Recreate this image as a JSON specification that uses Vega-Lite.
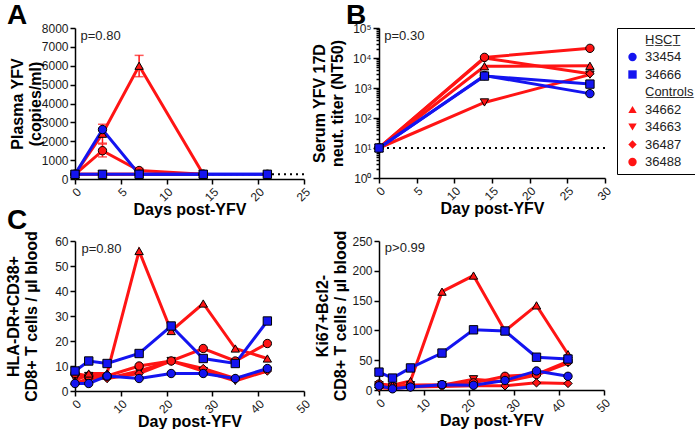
{
  "$schema": "https://vega.github.io/schema/vega-lite/v6.json",
  "padding": {"left": 5, "top": 2, "right": 0, "bottom": 0},
  "bounds": "flush",
  "columns": 2,
  "spacing": {"row": 62, "column": 75},
  "resolve": {
    "scale": {"fill": "independent", "shape": "independent", "stroke": "independent"},
    "legend": {"fill": "independent", "shape": "independent", "stroke": "independent"}
  },
  "datasets": {
    "a": [
      {"s": "34663", "d": 0, "v": 250}, {"s": "34663", "d": 3, "v": 250}, {"s": "34663", "d": 7, "v": 250}, {"s": "34663", "d": 14, "v": 250},
      {"s": "36487", "d": 0, "v": 250}, {"s": "36487", "d": 3, "v": 250}, {"s": "36487", "d": 7, "v": 250}, {"s": "36487", "d": 14, "v": 250},
      {"s": "36488", "d": 0, "v": 250}, {"s": "36488", "d": 3, "v": 1500}, {"s": "36488", "d": 7, "v": 450}, {"s": "36488", "d": 14, "v": 250},
      {"s": "34662", "d": 0, "v": 250}, {"s": "34662", "d": 3, "v": 2400}, {"s": "34662", "d": 7, "v": 6000}, {"s": "34662", "d": 14, "v": 250},
      {"s": "33454", "d": 0, "v": 250}, {"s": "33454", "d": 3, "v": 2620}, {"s": "33454", "d": 7, "v": 250}, {"s": "33454", "d": 14, "v": 250}, {"s": "33454", "d": 21, "v": 250},
      {"s": "34666", "d": 0, "v": 250}, {"s": "34666", "d": 3, "v": 250}, {"s": "34666", "d": 7, "v": 250}, {"s": "34666", "d": 14, "v": 250}, {"s": "34666", "d": 21, "v": 250}
    ],
    "aerr": [
      {"s": "34662", "d": 3, "lo": 1900, "hi": 2900},
      {"s": "36488", "d": 3, "lo": 1170, "hi": 1850},
      {"s": "34662", "d": 7, "lo": 5420, "hi": 6550},
      {"s": "36488", "d": 7, "lo": 380, "hi": 560}
    ],
    "b": [
      {"s": "34663", "d": 0, "v": 10}, {"s": "34663", "d": 14, "v": 330}, {"s": "34663", "d": 28, "v": 2800},
      {"s": "36487", "d": 0, "v": 10}, {"s": "36487", "d": 14, "v": 10000}, {"s": "36487", "d": 28, "v": 3000},
      {"s": "36488", "d": 0, "v": 10}, {"s": "36488", "d": 14, "v": 10500}, {"s": "36488", "d": 28, "v": 21000},
      {"s": "34662", "d": 0, "v": 10}, {"s": "34662", "d": 14, "v": 5300}, {"s": "34662", "d": 28, "v": 5500},
      {"s": "33454", "d": 0, "v": 10}, {"s": "33454", "d": 14, "v": 2600}, {"s": "33454", "d": 28, "v": 650},
      {"s": "34666", "d": 0, "v": 10}, {"s": "34666", "d": 14, "v": 2500}, {"s": "34666", "d": 28, "v": 1350}
    ],
    "c1": [
      {"s": "34663", "d": 0, "v": 5}, {"s": "34663", "d": 3, "v": 6}, {"s": "34663", "d": 7, "v": 5}, {"s": "34663", "d": 14, "v": 8}, {"s": "34663", "d": 21, "v": 12}, {"s": "34663", "d": 28, "v": 8}, {"s": "34663", "d": 35, "v": 4}, {"s": "34663", "d": 42, "v": 8},
      {"s": "36487", "d": 0, "v": 3}, {"s": "36487", "d": 3, "v": 5}, {"s": "36487", "d": 7, "v": 5}, {"s": "36487", "d": 14, "v": 7}, {"s": "36487", "d": 21, "v": 12}, {"s": "36487", "d": 28, "v": 9}, {"s": "36487", "d": 35, "v": 5}, {"s": "36487", "d": 42, "v": 8},
      {"s": "36488", "d": 0, "v": 7}, {"s": "36488", "d": 3, "v": 6}, {"s": "36488", "d": 7, "v": 6}, {"s": "36488", "d": 14, "v": 10}, {"s": "36488", "d": 21, "v": 12}, {"s": "36488", "d": 28, "v": 17}, {"s": "36488", "d": 35, "v": 12}, {"s": "36488", "d": 42, "v": 19},
      {"s": "34662", "d": 0, "v": 4}, {"s": "34662", "d": 3, "v": 7}, {"s": "34662", "d": 7, "v": 7}, {"s": "34662", "d": 14, "v": 56}, {"s": "34662", "d": 21, "v": 24}, {"s": "34662", "d": 28, "v": 35}, {"s": "34662", "d": 35, "v": 17}, {"s": "34662", "d": 42, "v": 13},
      {"s": "33454", "d": 0, "v": 3}, {"s": "33454", "d": 3, "v": 3}, {"s": "33454", "d": 7, "v": 6}, {"s": "33454", "d": 14, "v": 5}, {"s": "33454", "d": 21, "v": 7}, {"s": "33454", "d": 28, "v": 7}, {"s": "33454", "d": 35, "v": 5}, {"s": "33454", "d": 42, "v": 9},
      {"s": "34666", "d": 0, "v": 8}, {"s": "34666", "d": 3, "v": 12}, {"s": "34666", "d": 7, "v": 11}, {"s": "34666", "d": 14, "v": 15}, {"s": "34666", "d": 21, "v": 26}, {"s": "34666", "d": 28, "v": 13}, {"s": "34666", "d": 35, "v": 11}, {"s": "34666", "d": 42, "v": 28}
    ],
    "c2": [
      {"s": "34663", "d": 0, "v": 8}, {"s": "34663", "d": 3, "v": 5}, {"s": "34663", "d": 7, "v": 8}, {"s": "34663", "d": 14, "v": 8}, {"s": "34663", "d": 21, "v": 18}, {"s": "34663", "d": 28, "v": 14}, {"s": "34663", "d": 35, "v": 25}, {"s": "34663", "d": 42, "v": 45},
      {"s": "36487", "d": 0, "v": 4}, {"s": "36487", "d": 3, "v": 2}, {"s": "36487", "d": 7, "v": 5}, {"s": "36487", "d": 14, "v": 6}, {"s": "36487", "d": 21, "v": 7}, {"s": "36487", "d": 28, "v": 7}, {"s": "36487", "d": 35, "v": 12}, {"s": "36487", "d": 42, "v": 11},
      {"s": "36488", "d": 0, "v": 10}, {"s": "36488", "d": 3, "v": 6}, {"s": "36488", "d": 7, "v": 8}, {"s": "36488", "d": 14, "v": 9}, {"s": "36488", "d": 21, "v": 12}, {"s": "36488", "d": 28, "v": 23}, {"s": "36488", "d": 35, "v": 26}, {"s": "36488", "d": 42, "v": 48},
      {"s": "34662", "d": 0, "v": 10}, {"s": "34662", "d": 3, "v": 8}, {"s": "34662", "d": 7, "v": 15}, {"s": "34662", "d": 14, "v": 165}, {"s": "34662", "d": 21, "v": 192}, {"s": "34662", "d": 28, "v": 99}, {"s": "34662", "d": 35, "v": 142}, {"s": "34662", "d": 42, "v": 60},
      {"s": "33454", "d": 0, "v": 7}, {"s": "33454", "d": 3, "v": 2}, {"s": "33454", "d": 7, "v": 5}, {"s": "33454", "d": 14, "v": 9}, {"s": "33454", "d": 21, "v": 8}, {"s": "33454", "d": 28, "v": 16}, {"s": "33454", "d": 35, "v": 32}, {"s": "33454", "d": 42, "v": 23},
      {"s": "34666", "d": 0, "v": 30}, {"s": "34666", "d": 3, "v": 20}, {"s": "34666", "d": 7, "v": 37}, {"s": "34666", "d": 14, "v": 62}, {"s": "34666", "d": 21, "v": 101}, {"s": "34666", "d": 28, "v": 99}, {"s": "34666", "d": 35, "v": 55}, {"s": "34666", "d": 42, "v": 52}
    ]
  },
  "concat": [
    {
      "width": 229, "height": 151,
      "title": {"text": "A", "anchor": "start", "frame": "group", "fontSize": 28, "fontWeight": "bold", "dx": -68, "offset": -8, "color": "black"},
      "layer": [
        {
          "data": {"values": [{}]},
          "mark": {"type": "rule", "strokeDash": [2, 4], "strokeWidth": 2, "color": "black"},
          "encoding": {"y": {"datum": 250, "type": "quantitative"}}
        },
        {
          "data": {"name": "a"},
          "mark": {"type": "line", "strokeWidth": 3},
          "encoding": {
            "x": {"field": "d", "type": "quantitative", "scale": {"domain": [0, 25], "nice": false}, "axis": {"title": "Days post-YFV", "values": [0, 5, 10, 15, 20, 25], "tickCount": 50, "labelAngle": -45, "labelOverlap": false, "format": "d"}},
            "y": {"field": "v", "type": "quantitative", "scale": {"domain": [0, 8000], "nice": false}, "axis": {"title": ["Plasma YFV", "(copies/ml)"], "values": [0, 1000, 2000, 3000, 4000, 5000, 6000, 7000, 8000], "tickCount": 50, "format": "d", "labelOverlap": false, "titlePadding": 2, "minExtent": 30, "maxExtent": 30}},
            "stroke": {"field": "s", "type": "nominal", "scale": {"domain": ["33454", "34666", "34662", "34663", "36487", "36488"], "range": ["#1414f0", "#1414f0", "#ff1414", "#ff1414", "#ff1414", "#ff1414"]}, "legend": null}
          }
        },
        {
          "data": {"name": "aerr"},
          "mark": {"type": "rule", "strokeWidth": 1.5, "color": "#ff1414"},
          "encoding": {"x": {"field": "d", "type": "quantitative"}, "y": {"field": "lo", "type": "quantitative"}, "y2": {"field": "hi"}}
        },
        {
          "data": {"name": "aerr"},
          "mark": {"type": "tick", "orient": "horizontal", "size": 9, "thickness": 1.5, "color": "#ff1414"},
          "encoding": {"x": {"field": "d", "type": "quantitative"}, "y": {"field": "lo", "type": "quantitative"}}
        },
        {
          "data": {"name": "aerr"},
          "mark": {"type": "tick", "orient": "horizontal", "size": 9, "thickness": 1.5, "color": "#ff1414"},
          "encoding": {"x": {"field": "d", "type": "quantitative"}, "y": {"field": "hi", "type": "quantitative"}}
        },
        {
          "data": {"name": "a"},
          "mark": {"type": "point", "filled": true, "stroke": "black", "strokeWidth": 1, "size": 70, "opacity": 1},
          "encoding": {
            "x": {"field": "d", "type": "quantitative"},
            "y": {"field": "v", "type": "quantitative"},
            "fill": {"field": "s", "type": "nominal", "scale": {"domain": ["33454", "34666", "34662", "34663", "36487", "36488"], "range": ["#1414f0", "#1414f0", "#ff1414", "#ff1414", "#ff1414", "#ff1414"]}, "legend": null},
            "shape": {"field": "s", "type": "nominal", "scale": {"domain": ["33454", "34666", "34662", "34663", "36487", "36488"], "range": ["circle", "square", "triangle-up", "triangle-down", "diamond", "circle"]}, "legend": null}
          }
        },
        {
          "data": {"values": [{}]},
          "mark": {"type": "text", "fontSize": 13, "align": "left", "baseline": "middle", "color": "#222"},
          "encoding": {"x": {"datum": 0.6, "type": "quantitative"}, "y": {"datum": 7580, "type": "quantitative"}, "text": {"value": "p=0.80"}}
        }
      ]
    },
    {
      "width": 226, "height": 150,
      "title": {"text": "B", "anchor": "start", "frame": "group", "fontSize": 28, "fontWeight": "bold", "dx": -33, "offset": -8, "color": "black"},
      "layer": [
        {
          "data": {"values": [{}]},
          "mark": {"type": "rule", "strokeDash": [2, 4], "strokeWidth": 2, "color": "black"},
          "encoding": {"y": {"datum": 10, "type": "quantitative"}}
        },
        {
          "data": {"name": "b"},
          "mark": {"type": "line", "strokeWidth": 3},
          "encoding": {
            "x": {"field": "d", "type": "quantitative", "scale": {"domain": [0, 30], "nice": false}, "axis": {"title": "Day post-YFV", "values": [0, 5, 10, 15, 20, 25, 30], "tickCount": 50, "labelAngle": -45, "labelOverlap": false, "format": "d"}},
            "y": {"field": "v", "type": "quantitative", "scale": {"type": "log", "domain": [1, 100000], "nice": false}, "axis": {
              "title": ["Serum YFV 17D", "neut. titer (NT50)"],
              "values": [1, 2, 3, 4, 5, 6, 7, 8, 9, 10, 20, 30, 40, 50, 60, 70, 80, 90, 100, 200, 300, 400, 500, 600, 700, 800, 900, 1000, 2000, 3000, 4000, 5000, 6000, 7000, 8000, 9000, 10000, 20000, 30000, 40000, 50000, 60000, 70000, 80000, 90000, 100000],
              "labelExpr": "indexof([1,10,100,1000,10000,100000], datum.value) >= 0 ? '10' + ['⁰','¹','²','³','⁴','⁵'][round(log(datum.value)/LN10)] : ''",
              "labelOverlap": false,
              "tickSize": {"condition": {"test": "indexof([1,10,100,1000,10000,100000], datum.value) >= 0", "value": 6}, "value": 3},
              "titlePadding": 4, "minExtent": 30, "maxExtent": 30}},
            "stroke": {"field": "s", "type": "nominal", "scale": {"domain": ["33454", "34666", "34662", "34663", "36487", "36488"], "range": ["#1414f0", "#1414f0", "#ff1414", "#ff1414", "#ff1414", "#ff1414"]}, "legend": null}
          }
        },
        {
          "data": {"name": "b"},
          "mark": {"type": "point", "filled": true, "stroke": "black", "strokeWidth": 1, "size": 70, "opacity": 1},
          "encoding": {
            "x": {"field": "d", "type": "quantitative"},
            "y": {"field": "v", "type": "quantitative"},
            "shape": {"field": "s", "type": "nominal", "scale": {"domain": ["HSCT", "33454", "34666", "Controls", "34662", "34663", "36487", "36488"], "range": ["M0,0", "circle", "square", "M0,0", "triangle-up", "triangle-down", "diamond", "circle"]},
              "legend": {
                "title": null, "orient": "right", "offset": 12, "padding": 5, "strokeColor": "black", "cornerRadius": 0,
                "labelFontSize": 13, "labelColor": "#222", "labelFont": "Liberation Sans", "labelOffset": 6, "symbolOffset": 4, "symbolSize": 70, "rowPadding": 3.5,
                "symbolStrokeColor": "black", "symbolStrokeWidth": 1,
                "labelExpr": "datum.value === 'HSCT' ? 'H̲S̲C̲T̲' : datum.value === 'Controls' ? 'C̲o̲n̲t̲r̲o̲l̲s̲' : datum.label"
              }},
            "fill": {"field": "s", "type": "nominal", "scale": {"domain": ["HSCT", "33454", "34666", "Controls", "34662", "34663", "36487", "36488"], "range": ["#ffffff", "#1414f0", "#1414f0", "#ffffff", "#ff1414", "#ff1414", "#ff1414", "#ff1414"]}}
          }
        },
        {
          "data": {"values": [{}]},
          "mark": {"type": "text", "fontSize": 13, "align": "left", "baseline": "middle", "color": "#222"},
          "encoding": {"x": {"datum": 0.7, "type": "quantitative"}, "y": {"datum": 53000, "type": "quantitative"}, "text": {"value": "p=0.30"}}
        }
      ]
    },
    {
      "width": 229, "height": 150,
      "title": {"text": "C", "anchor": "start", "frame": "group", "fontSize": 28, "fontWeight": "bold", "dx": -68, "offset": -4, "color": "black"},
      "layer": [
        {
          "data": {"name": "c1"},
          "mark": {"type": "line", "strokeWidth": 3},
          "encoding": {
            "x": {"field": "d", "type": "quantitative", "scale": {"domain": [0, 50], "nice": false}, "axis": {"title": "Day post-YFV", "values": [0, 10, 20, 30, 40, 50], "tickCount": 50, "labelAngle": -45, "labelOverlap": false, "format": "d"}},
            "y": {"field": "v", "type": "quantitative", "scale": {"domain": [0, 60], "nice": false}, "axis": {"title": ["HLA-DR+CD38+", "CD8+ T cells / µl blood"], "values": [0, 10, 20, 30, 40, 50, 60], "tickCount": 50, "format": "d", "labelOverlap": false, "titlePadding": 6, "minExtent": 30, "maxExtent": 30}},
            "stroke": {"field": "s", "type": "nominal", "scale": {"domain": ["33454", "34666", "34662", "34663", "36487", "36488"], "range": ["#1414f0", "#1414f0", "#ff1414", "#ff1414", "#ff1414", "#ff1414"]}, "legend": null}
          }
        },
        {
          "data": {"name": "c1"},
          "mark": {"type": "point", "filled": true, "stroke": "black", "strokeWidth": 1, "size": 70, "opacity": 1},
          "encoding": {
            "x": {"field": "d", "type": "quantitative"},
            "y": {"field": "v", "type": "quantitative"},
            "fill": {"field": "s", "type": "nominal", "scale": {"domain": ["33454", "34666", "34662", "34663", "36487", "36488"], "range": ["#1414f0", "#1414f0", "#ff1414", "#ff1414", "#ff1414", "#ff1414"]}, "legend": null},
            "shape": {"field": "s", "type": "nominal", "scale": {"domain": ["33454", "34666", "34662", "34663", "36487", "36488"], "range": ["circle", "square", "triangle-up", "triangle-down", "diamond", "circle"]}, "legend": null}
          }
        },
        {
          "data": {"values": [{}]},
          "mark": {"type": "text", "fontSize": 13, "align": "left", "baseline": "middle", "color": "#222"},
          "encoding": {"x": {"datum": 1.4, "type": "quantitative"}, "y": {"datum": 57, "type": "quantitative"}, "text": {"value": "p=0.80"}}
        }
      ]
    },
    {
      "width": 225, "height": 149,
      "layer": [
        {
          "data": {"name": "c2"},
          "mark": {"type": "line", "strokeWidth": 3},
          "encoding": {
            "x": {"field": "d", "type": "quantitative", "scale": {"domain": [0, 50], "nice": false}, "axis": {"title": "Day post-YFV", "values": [0, 10, 20, 30, 40, 50], "tickCount": 50, "labelAngle": -45, "labelOverlap": false, "format": "d"}},
            "y": {"field": "v", "type": "quantitative", "scale": {"domain": [0, 250], "nice": false}, "axis": {"title": ["Ki67+Bcl2-", "CD8+ T cells / µl blood"], "values": [0, 50, 100, 150, 200, 250], "tickCount": 50, "format": "d", "labelOverlap": false, "titlePadding": 1, "minExtent": 30, "maxExtent": 30}},
            "stroke": {"field": "s", "type": "nominal", "scale": {"domain": ["33454", "34666", "34662", "34663", "36487", "36488"], "range": ["#1414f0", "#1414f0", "#ff1414", "#ff1414", "#ff1414", "#ff1414"]}, "legend": null}
          }
        },
        {
          "data": {"name": "c2"},
          "mark": {"type": "point", "filled": true, "stroke": "black", "strokeWidth": 1, "size": 70, "opacity": 1},
          "encoding": {
            "x": {"field": "d", "type": "quantitative"},
            "y": {"field": "v", "type": "quantitative"},
            "fill": {"field": "s", "type": "nominal", "scale": {"domain": ["33454", "34666", "34662", "34663", "36487", "36488"], "range": ["#1414f0", "#1414f0", "#ff1414", "#ff1414", "#ff1414", "#ff1414"]}, "legend": null},
            "shape": {"field": "s", "type": "nominal", "scale": {"domain": ["33454", "34666", "34662", "34663", "36487", "36488"], "range": ["circle", "square", "triangle-up", "triangle-down", "diamond", "circle"]}, "legend": null}
          }
        },
        {
          "data": {"values": [{}]},
          "mark": {"type": "text", "fontSize": 13, "align": "left", "baseline": "middle", "color": "#222"},
          "encoding": {"x": {"datum": 1.3, "type": "quantitative"}, "y": {"datum": 238, "type": "quantitative"}, "text": {"value": "p>0.99"}}
        }
      ]
    }
  ],
  "config": {
    "font": "Liberation Sans",
    "view": {"stroke": null},
    "title": {"font": "Liberation Sans"},
    "axis": {
      "grid": false, "domainColor": "black", "domainWidth": 1.5, "tickColor": "black", "tickWidth": 1.5, "tickSize": 5,
      "labelFont": "Liberation Sans", "labelFontSize": 12, "labelColor": "#1a1a1a", "labelPadding": 2, "labelOverlap": false,
      "titleFont": "Liberation Sans", "titleFontSize": 16, "titleFontWeight": "bold", "titleColor": "black", "titleLineHeight": 18
    },
    "axisX": {"minExtent": 20, "maxExtent": 20, "titlePadding": 2}
  }
}
